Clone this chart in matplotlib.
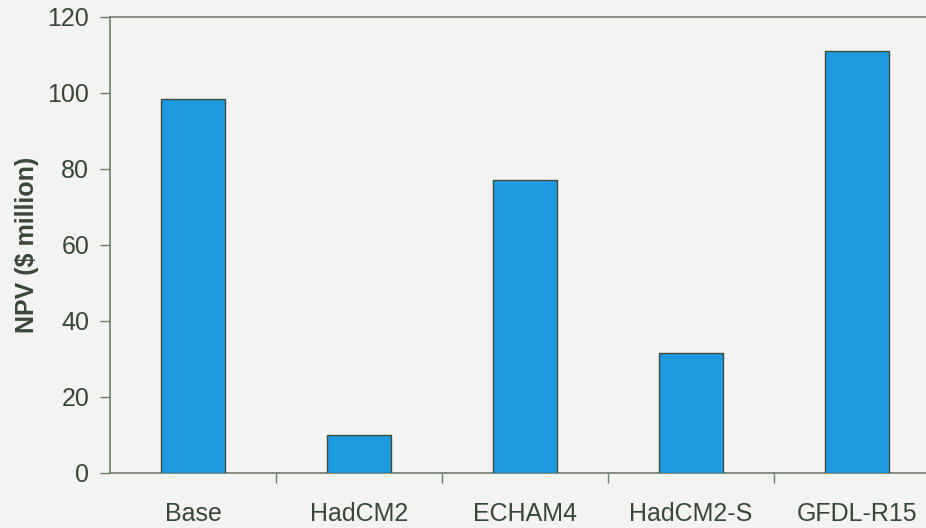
import numpy as np
import matplotlib
matplotlib.use("Agg")
import matplotlib.pyplot as plt

# Data
scenarios = ["Base", "HadCM2", "ECHAM4", "HadCM2-S", "GFDL-R15"]
npv = [98.5, 10, 77, 31.5, 111]
yticks = [0, 20, 40, 60, 80, 100, 120]

plt.rcParams['font.family'] = ['Liberation Sans', 'DejaVu Sans']

text_col = '#3a463a'
axis_col = '#6f7d6f'
bg = '#f3f3f1'

fig = plt.figure(figsize=(9.26, 5.28), dpi=100, facecolor=bg)
ax = fig.add_axes([110/926, 1 - 473/528, 1 - 110/926, (473 - 17)/528])
ax.set_facecolor(bg)

x = np.arange(len(scenarios))
ax.bar(x, npv, width=0.39, color='#1e9be0', edgecolor='#3d4d3d', linewidth=1.0, zorder=3)

# Axis limits: right end runs past the image edge
ax.set_ylim(0, 120)
ax.set_xlim(-0.5, 4.5 - 14/166)

ax.set_yticks(yticks)
ax.set_yticklabels([str(v) for v in yticks])

# category boundaries as major ticks, names on minor ticks
ax.set_xticks(np.arange(0.5, 4.5, 1.0))
ax.set_xticklabels([])
ax.set_xticks(x, minor=True)
ax.set_xticklabels(scenarios, minor=True)
ax.tick_params(axis='x', which='minor', length=0, pad=21, labelsize=18, labelcolor=text_col)
ax.tick_params(axis='x', which='major', length=7, width=1, color=axis_col)
ax.tick_params(axis='y', length=7, width=1, color=axis_col, labelsize=18, labelcolor=text_col, pad=8)

for side in ['left', 'bottom', 'top']:
    ax.spines[side].set_color(axis_col)
    ax.spines[side].set_linewidth(1.2)
ax.spines['right'].set_visible(False)

ax.set_ylabel("NPV ($ million)", fontsize=18, fontweight='bold', color=text_col, labelpad=6)

fig.savefig('out.png', dpi=100, facecolor=bg)
